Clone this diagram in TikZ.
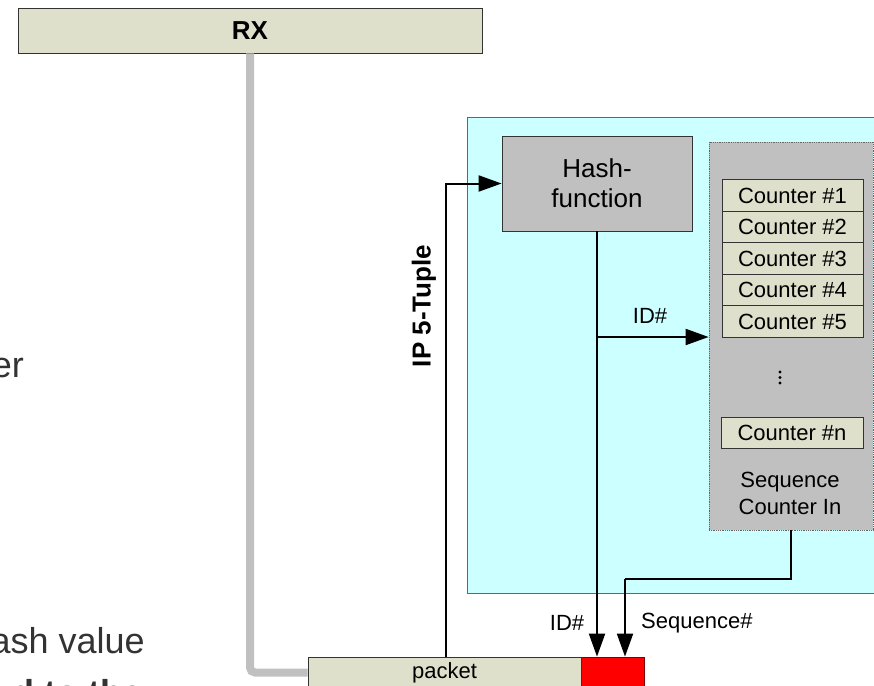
\documentclass[tikz,border=0pt]{standalone}
\usepackage{fontspec}
\setmainfont{Liberation Sans}
\usetikzlibrary{arrows.meta}
\definecolor{khaki}{HTML}{DEE0CB}
\definecolor{cyanbg}{HTML}{CCFFFF}
\definecolor{greybox}{HTML}{C0C0C0}
\definecolor{greyline}{HTML}{C0C0C0}
\definecolor{bgtext}{HTML}{333333}
\definecolor{darkred}{HTML}{800000}
\newcommand{\fs}[1]{\fontsize{#1}{#1}\selectfont}
\tikzset{
  khakibox/.style={draw=black!80, line width=0.8pt, fill=khaki, inner sep=0pt, anchor=center},
  ctr/.style={khakibox, minimum width=141, minimum height=31.5, font=\fs{22}},
  arr/.style={line width=2pt, -{Triangle[length=23pt,width=16pt]}},
  plain/.style={line width=2pt},
  lbl/.style={font=\fs{22}, inner sep=0pt},
  bgtxt/.style={text=bgtext, font=\fs{36}, inner sep=0pt},
}
\begin{document}
\begin{tikzpicture}[x=1pt,y=-1pt]
\useasboundingbox (0,0) rectangle (874,685);
\clip (0,0) rectangle (874,685);
% background slide text fragments
\node[bgtxt, anchor=base east] (t1) at (24,377) {er};
\node[bgtxt, anchor=base east] (t2) at (145,653) {ash value};
\node[bgtxt, font=\fs{36}\bfseries, anchor=base west] (t3) at (12,705) {d to the};
% RX
\node[khakibox, minimum width=464, minimum height=45, font=\fs{26}\bfseries] (rx) at (250,30.5) {RX};
% cyan block
\node[draw=black!60, line width=0.8pt, fill=cyanbg, minimum width=420, minimum height=476, inner sep=0pt] (block) at (677,355) {};
% hash function
\node[draw=black!80, line width=0.8pt, fill=greybox, minimum width=190, minimum height=95, inner sep=0pt, align=center, font=\fontsize{26}{30}\selectfont] (hash) at (597,183.5) {Hash-\\function};
% sequence counter block
\node[draw=black!60, densely dotted, line width=0.8pt, fill=greybox, minimum width=164, minimum height=388, inner sep=0pt] (seqbox) at (791,336) {};
\node[ctr] (c1) at (792.5,195.5) {Counter \#1};
\node[ctr] (c2) at (792.5,227) {Counter \#2};
\node[ctr] (c3) at (792.5,258.5) {Counter \#3};
\node[ctr] (c4) at (792.5,290) {Counter \#4};
\node[ctr] (c5) at (792.5,321.5) {Counter \#5};
\fill (780,372) circle (1.6) (780,377.5) circle (1.6) (780,383) circle (1.6);
\node[ctr, minimum width=142, minimum height=31] (cn) at (792,432.5) {Counter \#n};
\node[lbl, align=center, font=\fontsize{22}{27}\selectfont] (seqlbl) at (790,493) {Sequence\\Counter In};
% packet
\node[khakibox, minimum width=273, minimum height=31, font=\fs{22}] (packet) at (444.5,672.5) {packet};
\node[draw=darkred, line width=0.8pt, fill=red, minimum width=63, minimum height=31, inner sep=0pt] (red) at (612.5,672.5) {};
% gray RX line
\draw[greyline, line width=8pt, rounded corners=5pt] (rx.south) |- (packet.west);
\node[khakibox, minimum width=273, minimum height=31, font=\fs{22}] at (packet) {packet};
% connectors
\coordinate (ipx) at (446,0);
\coordinate (br) at (597,337);
\coordinate (sq) at (625,579);
\draw[arr] (packet.north -| ipx) |- (hash.west);
\draw[arr] (hash.south) -- (hash.south |- red.north);
\draw[arr] (br) -- (br -| seqbox.west);
\draw[plain] (seqbox.south) |- (sq);
\draw[arr] (sq) -- (sq |- red.north);
% labels
\node[lbl] (idlbl1) at (650,316) {ID\#};
\node[lbl] (idlbl2) at (567,623) {ID\#};
\node[lbl, anchor=west] (seqnum) at (641,623) {Sequence\#};
\node[lbl, font=\fs{26}\bfseries, rotate=90] (iplbl) at (424,306) {IP 5-Tuple};
\end{tikzpicture}
\end{document}
